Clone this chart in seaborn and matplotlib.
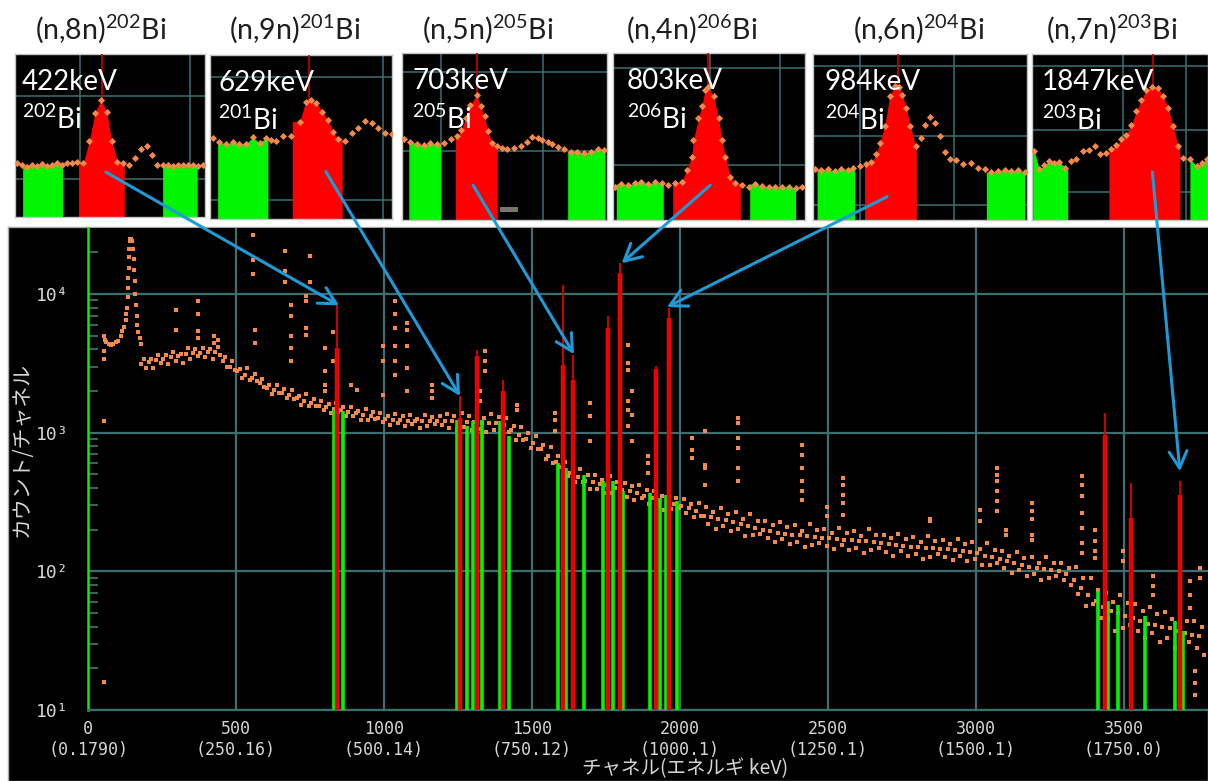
import numpy as np
import pandas as pd
import matplotlib
matplotlib.use("Agg")
import matplotlib.pyplot as plt
import seaborn as sns
from matplotlib.patches import ConnectionPatch, Rectangle
from matplotlib.ticker import LogLocator, NullFormatter

plt.rcParams['mathtext.fontset'] = 'custom'
plt.rcParams['mathtext.rm'] = 'Lato'
plt.rcParams['mathtext.it'] = 'Lato:italic'
plt.rcParams['mathtext.bf'] = 'Lato:bold'

W, H = 1208, 781

# ---------------- main spectrum data ----------------
# continuum band, sampled every 25 channels starting at channel 180
band_mid = [3150, 3240, 3330, 3420, 3500, 3580, 3670, 3730, 3760, 3800,
            3800, 3300, 3000, 2780, 2620, 2480, 2280, 2110, 2020, 1940,
            1860, 1770, 1700, 1630, 1570, 1530, 1480, 1450, 1410, 1380,
            1345, 1310, 1285, 1260, 1245, 1235, 1225, 1215, 1210, 1210,
            1215, 1215, 1210, 1200, 1195, 1190, 1185, 1180, 1175, 1140,
            1040, 960, 900, 840, 760, 680, 610, 555, 515, 480,
            450, 438, 428, 418, 400, 388, 380, 365, 350, 338,
            328, 318, 307, 298, 285, 272, 252, 245, 238, 233,
            228, 220, 212, 205, 200, 195, 190, 187, 184, 182,
            179, 177, 175, 173, 171, 169, 167, 166, 165, 162,
            160, 157, 155, 152, 151, 150, 148, 147, 146, 144,
            142, 141, 139, 135, 130, 126, 122, 118, 114, 111,
            108, 106, 104, 102, 100, 96, 86, 76, 68, 61,
            55, 52, 50, 48, 46, 44, 42, 41, 40, 39,
            37, 36, 35, 34]
band_hi = [3400, 3400, 3660, 3630, 3820, 3720, 4070, 3990, 4060, 3990,
           4180, 3500, 3270, 2890, 2910, 2650, 2460, 2220, 2220, 2060,
           2030, 1840, 1890, 1740, 1700, 1610, 1630, 1540, 1540, 1440,
           1490, 1400, 1390, 1320, 1370, 1310, 1340, 1260, 1340, 1290,
           1310, 1360, 1310, 1380, 1310, 1340, 1270, 1370, 1300, 1280,
           1120, 1100, 990, 950, 810, 790, 680, 620, 560, 550,
           495, 495, 458, 485, 444, 435, 410, 420, 385, 382,
           351, 369, 341, 334, 308, 313, 290, 270, 286, 261,
           269, 238, 259, 232, 230, 215, 228, 209, 217, 197,
           218, 200, 201, 190, 205, 189, 197, 179, 201, 183,
           184, 173, 186, 170, 178, 162, 181, 166, 168, 158,
           170, 158, 164, 146, 159, 142, 140, 130, 137, 124,
           127, 114, 127, 115, 115, 106, 108, 90, 90, 73,
           70, 60, 68, 59, 58, 52, 55, 49, 51, 45,
           50, 44, 44, 40]
band_lo = [2930, 2920, 3160, 3110, 3290, 3190, 3380, 3580, 3500, 3420,
           3610, 3000, 2820, 2470, 2410, 2380, 2120, 1900, 1920, 1770,
           1750, 1580, 1560, 1560, 1460, 1380, 1410, 1320, 1330, 1230,
           1240, 1260, 1200, 1130, 1180, 1120, 1150, 1080, 1110, 1160,
           1130, 1080, 1040, 1100, 1040, 1070, 1010, 1040, 1090, 1010,
           890, 880, 780, 760, 650, 600, 570, 490, 440, 440,
           390, 395, 365, 368, 372, 345, 327, 336, 305, 304,
           279, 280, 286, 265, 245, 250, 219, 203, 214, 196,
           201, 180, 182, 187, 174, 162, 171, 157, 162, 149,
           154, 161, 152, 144, 154, 142, 147, 136, 142, 147,
           139, 130, 140, 128, 133, 123, 127, 134, 127, 120,
           128, 118, 122, 111, 112, 115, 106, 98, 103, 93,
           95, 87, 89, 93, 87, 80, 69, 56, 58, 46,
           45, 37, 39, 41, 37, 33, 36, 31, 33, 28,
           29, 31, 28, 25]

# low-energy part (X-ray region)
lowE_ch = [54, 54, 54, 54, 55, 58, 62, 70, 78, 86, 94, 102, 110, 116,
           122, 128, 130, 132, 134, 135, 136, 138, 139, 140,
           141, 143, 146, 150, 152, 154, 156, 158, 160, 162,
           164, 166, 170, 175, 178]
lowE_cnt = [16, 1210, 3400, 3880, 5000, 4700, 4500, 4350, 4300, 4400, 4500, 4600, 5000, 5400,
            5800, 6500, 7200, 8000, 9500, 11000, 13000, 15500, 18500, 21000,
            24000, 25000, 25000, 24000, 21000, 18000, 15000, 12500, 10000, 8300,
            7000, 6000, 5300, 4800, 4400]

# isolated points above the continuum (unmarked peaks)
line_ch = [297, 372, 425, 440, 557, 564, 665, 686, 736, 750, 800, 828, 890, 910,
           997, 1037, 1078, 1162, 1324, 1341, 1449, 1578, 1696, 1824, 1838, 1892,
           2041, 2084, 2196, 2412, 2497, 2551, 2845, 3014, 3071, 3101, 3189, 3358,
           3402, 3497, 3598, 3723, 3740, 3757]
line_counts = [[7660, 5500], [8900, 7170, 5410, 4810], [4980, 4430], [4660],
               [26800, 17600, 13900], [5500, 4430], [20400, 14700, 12200],
               [8330, 6940, 4980, 4080, 3290], [9680, 8900, 5690, 5060], [18800, 12200],
               [4080, 2780, 2200, 2000], [5320, 3290], [2200], [2030],
               [4210, 3290, 1870], [8900, 7170, 5690, 4210, 3290, 2600],
               [6180, 5500, 4210, 2920, 2000], [2200, 2000, 1780], [2000, 1690],
               [3880, 3290, 2780], [1580, 1450], [1380, 1230, 1030], [1630, 1320, 870],
               [4280, 3175, 2830, 1690, 1460, 1110], [2000, 1340, 870], [677, 605, 510],
               [910, 750, 655], [1030, 585, 555, 418], [1270, 1170, 910, 775, 560, 447],
               [810, 690, 555, 447, 378, 325], [290, 250], [470, 418, 354, 310, 254],
               [240, 230], [276, 230], [555, 493, 447, 378, 320, 272], [198, 182],
               [310, 272, 240, 182, 168], [485, 418, 348, 263, 205, 160, 136],
               [198, 165, 140, 125], [140, 118], [93, 79, 67], [85, 67, 54],
               [19, 15.7, 12.8], [105, 89]]

# peak regions (red) and background regions (green)
peak_ch = [841, 1257, 1314, 1402, 1605, 1639, 1757, 1797, 1919, 1963, 3436, 3524, 3689]
peak_top = [8320, 1840, 3940, 2390, 11600, 3630, 6940, 16700, 3020, 7930, 1380, 431, 445]
peak_body = [4080, 1270, 3600, 2000, 3060, 2390, 5690, 14200, 2870, 6710, 960, 242, 354]
bg_ch = [831, 861, 1247, 1280, 1301, 1331, 1392, 1422, 1588, 1615, 1676, 1740,
         1774, 1807, 1899, 1932, 1953, 1990, 3412, 3446, 3480, 3571, 3672, 3699]
bg_top = [1450, 1430, 1230, 1110, 1210, 1230, 1210, 944, 602, 555, 493, 447,
          447, 378, 366, 337, 354, 320, 72, 61, 57, 48, 44, 37]

x_ticks = [0, 500, 1000, 1500, 2000, 2500, 3000, 3500]
x_energy = ["0.1790", "250.16", "500.14", "750.12", "1000.1", "1250.1", "1500.1", "1750.0"]
y_ticks = [10, 100, 1000, 10000]
y_ticklabels = ["10\u00b9", "10\u00b2", "10\u00b3", "10\u2074"]

# ---------------- inset data ----------------
inset_titles = ["(n,8n)$^{202}$Bi", "(n,9n)$^{201}$Bi", "(n,5n)$^{205}$Bi",
                "(n,4n)$^{206}$Bi", "(n,6n)$^{204}$Bi", "(n,7n)$^{203}$Bi"]
inset_energy = ["422keV", "629keV", "703keV", "803keV", "984keV", "1847keV"]
inset_isotope = ["$^{202}$Bi", "$^{201}$Bi", "$^{205}$Bi", "$^{206}$Bi", "$^{204}$Bi", "$^{203}$Bi"]

ins1_u = [0.9, 3.5, 6.1, 8.8, 11.4, 14.0, 16.7, 19.3, 21.9, 24.6, 27.2, 29.8, 32.5, 36.0,
          39.1, 42.1, 45.3, 48.2, 50.9, 53.9, 57.0, 60.2, 63.2, 66.1, 69.3, 71.9, 74.9,
          78.1, 80.7, 83.3, 86.0, 88.6, 91.2, 93.9, 96.5, 99.1]
ins1_v = [33.3, 31.8, 30.8, 32.2, 31.4, 32.4, 31.2, 31.8, 32.9, 32.2, 33.3, 32.9, 33.9, 33.3,
          46.8, 64.1, 71.9, 64.7, 46.8, 33.9, 32.9, 32.2, 35.9, 41.5, 43.5, 38.0, 31.8,
          31.8, 32.2, 31.4, 32.0, 31.6, 32.2, 31.8, 31.4, 32.0]
ins2_u = [1.5, 5.1, 8.8, 12.5, 16.2, 19.9, 23.5, 27.2, 30.9, 33.6, 36.4, 40.1, 44.7, 49.3,
          52.6, 55.7, 58.5, 61.8, 64.9, 67.6, 70.4, 74.1, 77.8, 81.4, 85.1, 88.8, 92.5,
          96.1, 99.8]
ins2_v = [49.3, 47.1, 45.6, 47.1, 45.6, 46.0, 49.7, 46.5, 49.5, 48.1, 47.7, 50.5, 50.5, 59.4,
          71.6, 72.6, 70.6, 65.5, 60.4, 53.3, 48.7, 47.3, 52.3, 55.4, 60.0, 58.4, 55.4,
          52.7, 51.9]
ins3_u = [0.8, 4.1, 7.3, 10.6, 13.9, 17.1, 20.4, 23.7, 26.9, 29.0, 31.0, 33.4, 36.4, 38.3,
          40.3, 41.9, 44.0, 46.5, 48.9, 51.4, 54.6, 57.9, 61.2, 63.6, 66.1, 68.5, 71.0,
          73.4, 75.9, 79.1, 82.4, 85.6, 88.9, 92.2, 95.4, 98.7]
ins3_v = [48.4, 47.0, 45.6, 45.0, 46.0, 45.6, 46.4, 48.4, 50.4, 54.0, 61.0, 69.0, 75.0, 68.4,
          62.0, 53.0, 46.4, 44.6, 43.0, 42.4, 43.0, 44.4, 47.0, 49.6, 49.0, 48.0, 47.0,
          45.6, 44.0, 42.4, 41.0, 41.0, 40.0, 41.0, 42.4, 42.0]
ins4_u = [0.9, 4.4, 7.9, 11.3, 14.8, 18.3, 21.8, 25.3, 28.8, 32.3, 35.8, 38.4, 41.0, 41.9,
          44.5, 46.2, 48.0, 49.7, 52.4, 55.0, 56.7, 58.5, 61.1, 63.7, 67.2, 70.7, 74.2,
          77.7, 81.2, 84.6, 88.1, 91.6, 95.1, 98.6]
ins4_v = [20.0, 21.6, 21.0, 22.0, 23.0, 21.6, 22.6, 22.0, 21.0, 22.0, 23.0, 30.0, 38.0, 48.0,
          61.0, 68.0, 78.0, 79.6, 74.0, 61.0, 48.0, 38.0, 26.0, 22.0, 21.0, 20.0, 21.6,
          20.4, 19.6, 20.0, 19.6, 20.0, 19.0, 20.0]
ins5_u = [0.8, 3.9, 7.0, 10.1, 13.2, 16.4, 18.7, 21.8, 24.9, 27.3, 29.6, 31.2, 33.5, 35.8,
          38.2, 40.2, 41.7, 43.6, 45.5, 48.0, 50.3, 52.2, 54.5, 56.9, 59.2, 61.5, 63.9,
          67.0, 70.1, 74.0, 77.1, 80.2, 83.3, 86.4, 89.6, 92.7, 95.8, 98.9]
ins5_v = [30.9, 30.1, 30.5, 29.5, 30.9, 30.1, 31.5, 32.5, 33.5, 34.9, 39.5, 46.5, 56.5, 74.5,
          80.9, 80.2, 75.5, 67.5, 56.5, 44.5, 49.5, 57.5, 62.1, 58.5, 50.5, 40.9, 36.9,
          36.1, 33.5, 34.1, 31.5, 30.5, 28.9, 29.5, 30.1, 29.5, 30.1, 29.1]
ins6_u = [1.3, 4.2, 7.0, 9.9, 12.7, 15.6, 19.0, 22.2, 25.1, 28.9, 32.3, 35.6, 38.4, 42.2,
          45.1, 47.9, 50.8, 53.6, 56.5, 59.3, 62.2, 65.0, 67.9, 71.7, 74.5, 77.4, 80.2,
          83.1, 85.9, 89.7, 93.5, 96.4, 99.2]
ins6_v = [41.5, 30.5, 32.9, 35.5, 34.5, 34.9, 31.5, 35.5, 36.9, 41.5, 42.1, 44.5, 39.5, 40.5,
          42.9, 44.9, 48.5, 51.5, 57.5, 65.5, 72.5, 78.6, 80.2, 79.6, 74.5, 67.5, 56.5,
          44.5, 37.5, 36.9, 32.5, 34.5, 36.5]
ins_u = [ins1_u, ins2_u, ins3_u, ins4_u, ins5_u, ins6_u]
ins_v = [ins1_v, ins2_v, ins3_v, ins4_v, ins5_v, ins6_v]
ins_green_left = [(4.0, 25.1), (4.2, 31.8), (3.3, 18.8), (1.7, 26.2), (1.9, 19.5), (0.4, 20.3)]
ins_red = [(33.9, 57.5), (45.2, 72.6), (26.1, 46.5), (31.1, 66.3), (24.1, 48.3), (43.7, 84.0)]
ins_green_right = [(77.7, 95.9), None, (80.8, 99.0), (71.2, 95.1), (81.0, 98.9), (89.7, 100.0)]
ins_peak_u = [45.6, 54.4, 36.7, 49.7, 39.7, 68.8]
ins_grid_x = [[34.2, 92.1], [95.2], [18.8, 69.0], [50.3, 86.9], [22.1, 65.7], [51.7, 87.5]]
ins_grid_y = [[74.3, 23.6], [86.8, 11.8], [88.4, 41.6], [91.0, 33.0], [92.6, 50.5, 8.8], [92.6, 54.5, 16.8]]

# arrows: start in inset coordinates, end at (channel, counts) in the main spectrum
arrow_u = [47.9, 63.6, 34.7, 50.6, 34.6, 68.4]
arrow_v = [27.5, 29.0, 20.8, 20.8, 14.0, 28.9]
arrow_ch = [848, 1257, 1642, 1803, 1956, 3689]
arrow_cnt = [8300, 1840, 3680, 16700, 8060, 527]

# ---------------- styling ----------------
ORANGE = '#f4894a'
TEAL = '#3d6f71'
RED = '#ff0000'
GREEN = '#00f500'
BLUE = '#1e9bd7'
LABEL = '#d6d6d6'

fig = plt.figure(figsize=(W / 100, H / 100), dpi=100, facecolor='white')

# black panel behind the spectrum
panel = fig.add_axes([8 / W, 0, (W - 8) / W, (H - 227) / H])
panel.set_facecolor('black')
panel.set_xticks([]); panel.set_yticks([])
for s in panel.spines.values():
    s.set_color('#a8a8a8'); s.set_linewidth(1)

main = fig.add_axes([88 / W, (H - 710) / H, (W - 88) / W, (710 - 228) / H])
main.set_zorder(1)
main.set_facecolor('black')
main.set_yscale('log')
main.set_xlim(0, 3784)
main.set_ylim(10, 29970)
main.set_axisbelow(True)

band_ch = 180 + 25 * np.arange(len(band_mid))
flat_ch = [c for c, cs in zip(line_ch, line_counts) for _ in cs]
flat_cnt = [v for cs in line_counts for v in cs]
spec = pd.DataFrame({
    'ch': np.concatenate([band_ch, band_ch + 8, band_ch + 16, lowE_ch, flat_ch]),
    'cnt': np.concatenate([band_mid, band_hi, band_lo, lowE_cnt, flat_cnt]),
})
sns.scatterplot(data=spec, x='ch', y='cnt', ax=main, color=ORANGE, marker='s', s=9,
                linewidth=0, legend=False, zorder=3)

main.vlines(bg_ch, 10, bg_top, color=GREEN, lw=2.6, zorder=4)
main.vlines(peak_ch, 10, peak_body, color=RED, lw=3.2, zorder=5)
main.vlines(peak_ch, 10, peak_top, color='#e00000', lw=1.3, zorder=5)

main.set_xticks(x_ticks)
main.set_xticklabels([f"{t}\n({e})" for t, e in zip(x_ticks, x_energy)])
main.set_yticks(y_ticks)
main.set_yticklabels(y_ticklabels)
main.yaxis.set_minor_locator(LogLocator(base=10, subs=np.arange(2, 10)))
main.yaxis.set_minor_formatter(NullFormatter())
main.grid(True, which='major', color=TEAL, lw=1.6)
main.tick_params(axis='x', which='major', length=0, pad=7, colors=LABEL, labelsize=12)
main.tick_params(axis='y', which='major', length=0, pad=14, colors=LABEL, labelsize=13)
main.tick_params(axis='y', which='minor', direction='in', length=7, width=1.3, color=TEAL)
for lab in main.get_xticklabels() + main.get_yticklabels():
    lab.set_family('DejaVu Sans Mono')
for side in ('top', 'right'):
    main.spines[side].set_visible(False)
main.spines['bottom'].set_color(TEAL); main.spines['bottom'].set_linewidth(1.6)
main.spines['left'].set_color(GREEN); main.spines['left'].set_linewidth(1.8)

main.set_xlabel("チャネル(エネルギ keV)", color=LABEL, fontsize=14,
                family=['Noto Sans CJK JP', 'DejaVu Sans'])
main.xaxis.set_label_coords(0.533, -0.122)
main.xaxis.label.set_va('center')
main.set_ylabel("カウント/チャネル", color=LABEL, fontsize=15,
                family=['Noto Sans CJK JP', 'DejaVu Sans'])
main.yaxis.set_label_coords(-0.059, 0.54)
main.yaxis.label.set_va('center')

# ---------------- insets ----------------
ins_box = [(15, 54, 190, 163), (210, 55, 182, 164), (402, 53, 205, 167),
           (613, 53, 192, 167), (813, 54, 214, 166), (1032, 54, 176, 166)]
title_cx = [101, 295, 488, 692, 919, 1112]
label_px = [7, 8, 10, 14, 12, 10]

inset_axes = []
for k in range(6):
    x0, y0, w, h = ins_box[k]
    ax = fig.add_axes([x0 / W, 1 - (y0 + h) / H, w / W, h / H])
    ax.set_zorder(2)
    ax.set_facecolor('black')
    ax.set_xlim(0, 100); ax.set_ylim(0, 100)
    ax.set_xticks([]); ax.set_yticks([])
    for s in ax.spines.values():
        s.set_color('#c4c4c4'); s.set_linewidth(1)
    for gx in ins_grid_x[k]:
        ax.axvline(gx, color=TEAL, lw=1.1, zorder=1)
    for gy in ins_grid_y[k]:
        ax.axhline(gy, color=TEAL, lw=1.1, zorder=1)
    u = np.array(ins_u[k]); v = np.array(ins_v[k])

    def region(lo, hi, color):
        m = (u >= lo) & (u <= hi)
        xs = np.concatenate([[lo], u[m], [hi]])
        ys = np.concatenate([[v[m][0]], v[m], [v[m][-1]]])
        ax.fill_between(xs, 0, ys, color=color, lw=0, zorder=2)
        return v[m].max()

    region(*ins_green_left[k], GREEN)
    if ins_green_right[k] is not None:
        region(*ins_green_right[k], GREEN)
    top = region(*ins_red[k], RED)
    ax.vlines(ins_peak_u[k], top, 100, color='#c80000', lw=1.2, zorder=3)
    if k == 2:
        ax.add_patch(Rectangle((47.8, 4.6), 8.8, 3.4, color='#7a756a', lw=0, zorder=3))
    sns.scatterplot(x=u, y=v, ax=ax, marker='D', s=13, color=ORANGE, linewidth=0,
                    legend=False, zorder=4)
    lx = label_px[k] / w
    ax.text(lx, 0.83, inset_energy[k], transform=ax.transAxes, color='white',
            fontsize=20, family='Lato', ha='left', va='center', zorder=6)
    ax.text(lx, 0.60, inset_isotope[k], transform=ax.transAxes, color='white',
            fontsize=20, family='Lato', ha='left', va='center', zorder=6)
    fig.text(title_cx[k] / W, 1 - 29 / H, inset_titles[k], ha='center', va='center',
             fontsize=20.5, family='Lato', color='#1e1e1e')
    inset_axes.append(ax)

for k in range(6):
    con = ConnectionPatch(xyA=(arrow_u[k], arrow_v[k]), coordsA=inset_axes[k].transData,
                          xyB=(arrow_ch[k], arrow_cnt[k]), coordsB=main.transData,
                          arrowstyle="->,head_length=0.6,head_width=0.32",
                          mutation_scale=20, color=BLUE, lw=2.2, zorder=20)
    fig.add_artist(con)

fig.savefig('out.png', dpi=100, facecolor='white')
